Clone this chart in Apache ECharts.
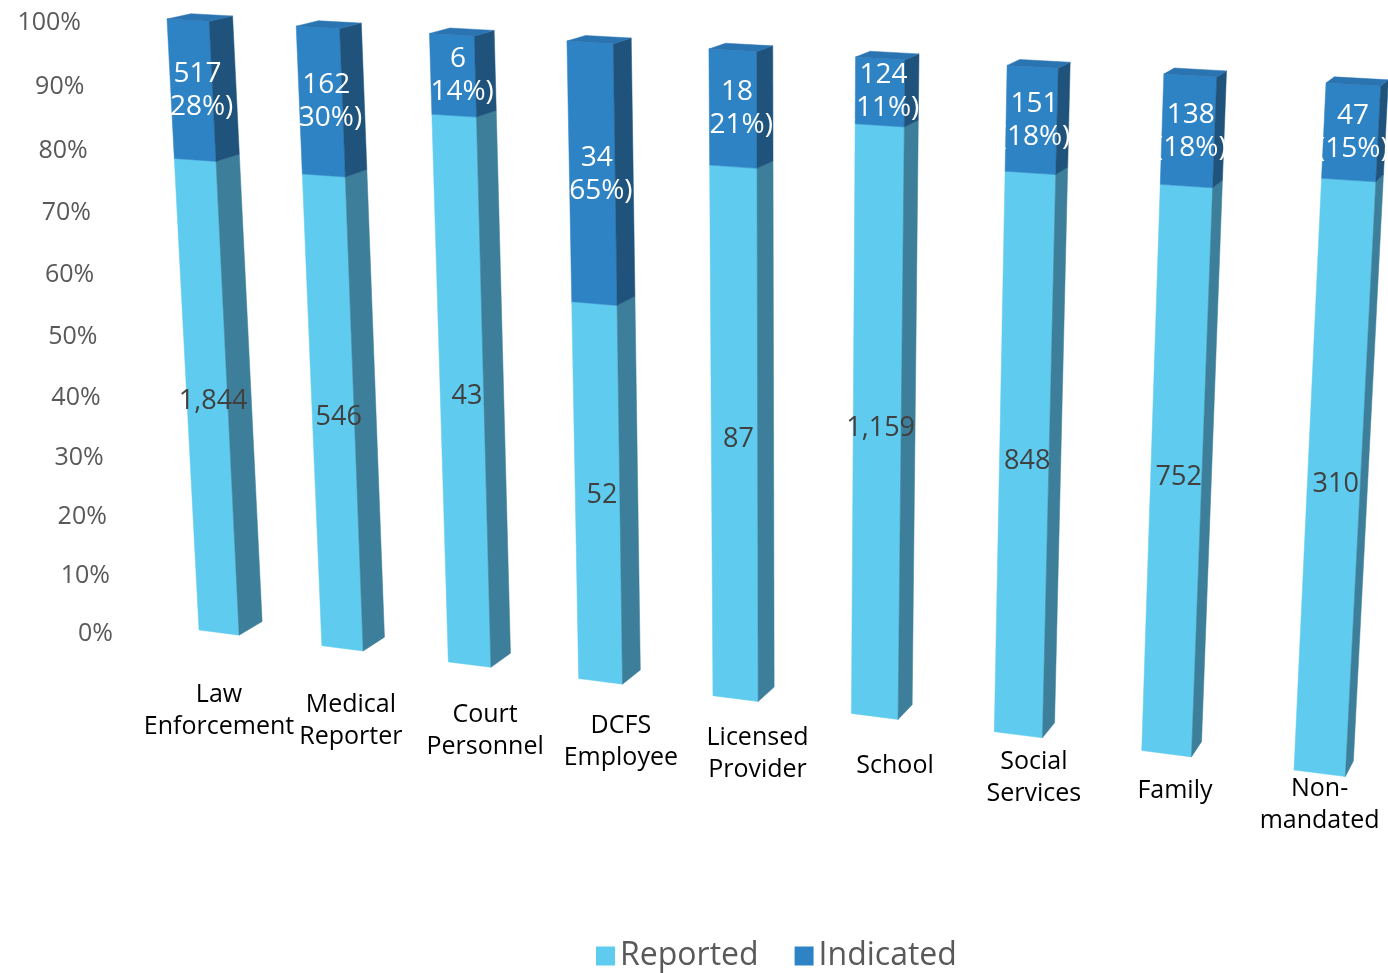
<!DOCTYPE html>
<html>
<head>
<meta charset="utf-8">
<script src="https://cdn.jsdelivr.net/npm/echarts@6/dist/echarts.min.js"></script>
<style>
html,body{margin:0;padding:0;background:#fff;}
#chart{width:1388px;height:973px;}
</style>
</head>
<body>
<div id="chart"></div>
<script>
// ---- data ----
const categories = ['Law\nEnforcement', 'Medical\nReporter', 'Court\nPersonnel', 'DCFS\nEmployee', 'Licensed\nProvider', 'School', 'Social\nServices', 'Family', 'Non-\nmandated'];
const reported = [1844, 546, 43, 52, 87, 1159, 848, 752, 310];
const indicated = [517, 162, 6, 34, 18, 124, 151, 138, 47];
const indicatedPct = [28, 30, 14, 65, 21, 11, 18, 18, 15];
const yTicks = [0, 10, 20, 30, 40, 50, 60, 70, 80, 90, 100];

// ---- layout / perspective constants ----
const FONT = '"Open Sans", "Noto Sans", sans-serif';
const BAR_W = 0.33;          // front face width in category units
const DEPTH_K = 0.0135;      // depth as fraction toward vanishing point
const VP = [1941, -373];     // vanishing point of depth lines
// screen corners of the front plane: (s,t) unit square -> picture
const SRC = [[0, 1], [0, 0], [1, 1], [1, 0]];
const DST = [[167, 19], [199, 630], [1326, 83], [1294, 770]];
const YLABEL_GAP = 86;
const COLORS = {
  repFront: '#5ECBEF', repSide: '#3D7F9A',
  indFront: '#2E83C5', indSide: '#1F537C', indTop: '#2B74B2'
};

function solveH(src, dst) {
  const A = [], b = [];
  for (let k = 0; k < 4; k++) {
    const [x, y] = src[k], [X, Y] = dst[k];
    A.push([x, y, 1, 0, 0, 0, -x * X, -y * X]); b.push(X);
    A.push([0, 0, 0, x, y, 1, -x * Y, -y * Y]); b.push(Y);
  }
  const n = 8;
  for (let c = 0; c < n; c++) {
    let p = c;
    for (let r = c + 1; r < n; r++) if (Math.abs(A[r][c]) > Math.abs(A[p][c])) p = r;
    [A[c], A[p]] = [A[p], A[c]]; [b[c], b[p]] = [b[p], b[c]];
    for (let r = 0; r < n; r++) {
      if (r === c) continue;
      const f = A[r][c] / A[c][c];
      for (let k = c; k < n; k++) A[r][k] -= f * A[c][k];
      b[r] -= f * b[c];
    }
  }
  return b.map((v, i) => v / A[i][i]);
}
const Hm = solveH(SRC, DST);
function homo(s, t) {
  const d = Hm[6] * s + Hm[7] * t + 1;
  return [(Hm[0] * s + Hm[1] * t + Hm[2]) / d, (Hm[3] * s + Hm[4] * t + Hm[5]) / d];
}
function back(p) {
  return [p[0] + DEPTH_K * (VP[0] - p[0]), p[1] + DEPTH_K * (VP[1] - p[1])];
}
function projector(params, api) {
  const cs = params.coordSys;
  return function (u, v) {
    const p = api.coord([u, v]);
    const s = (p[0] - cs.x) / cs.width;
    const t = (cs.y + cs.height - p[1]) / cs.height;
    return homo(s, t);
  };
}

const reportedShare = reported.map((r, i) => r / (r + indicated[i]) * 100);
const repData = reported.map((r, i) => [i, 0, reportedShare[i], r]);
const indData = indicated.map((v, i) => [i, reportedShare[i], 100, v]);

function barRenderer(isTop) {
  return function (params, api) {
    const P = projector(params, api);
    const i = api.value(0), v0 = api.value(1), v1 = api.value(2), val = api.value(3);
    const FL0 = P(i, v0), FR0 = P(i + BAR_W, v0), FR1 = P(i + BAR_W, v1), FL1 = P(i, v1);
    const front = isTop ? COLORS.indFront : COLORS.repFront;
    const side = isTop ? COLORS.indSide : COLORS.repSide;
    const children = [
      { type: 'polygon', shape: { points: [FL0, FR0, FR1, FL1] }, style: { fill: front, stroke: front, lineWidth: 0.5 } },
      { type: 'polygon', shape: { points: [FR0, back(FR0), back(FR1), FR1] }, style: { fill: side, stroke: side, lineWidth: 0.5 } }
    ];
    if (isTop) {
      children.push({ type: 'polygon', shape: { points: [FL1, FR1, back(FR1), back(FL1)] }, style: { fill: COLORS.indTop, stroke: COLORS.indTop, lineWidth: 0.5 } });
    }
    const mid = (v0 + v1) / 2;
    const L = P(i, mid), R = P(i + BAR_W, mid), RB = back(R);
    const cx = (L[0] + R[0]) / 2 + (RB[0] - R[0]) * 0.25, cy = (L[1] + R[1]) / 2;
    const text = isTop ? (val + '\n(' + indicatedPct[i] + '%)') : val.toLocaleString('en-US');
    children.push({
      type: 'text', z2: 10,
      style: {
        text: text, x: cx, y: cy, align: 'center', verticalAlign: 'middle',
        fill: isTop ? '#ffffff' : '#404040', fontSize: isTop ? 28 : 27, lineHeight: 33, fontFamily: FONT
      }
    });
    return { type: 'group', children: children };
  };
}

const option = {
  animation: false,
  backgroundColor: '#ffffff',
  grid: { left: 100, right: 100, top: 100, bottom: 100 },
  xAxis: { type: 'value', min: 0, max: 8, show: false },
  yAxis: { type: 'value', min: 0, max: 100, show: false },
  legend: {
    data: ['Reported', 'Indicated'],
    top: 935, left: 591, icon: 'rect', itemWidth: 19, itemHeight: 19, itemGap: 36,
    textStyle: { fontSize: 32, color: '#595959', fontFamily: FONT }
  },
  series: [
    {
      name: 'Reported', type: 'custom', renderItem: barRenderer(false), data: repData,
      itemStyle: { color: COLORS.repFront }, encode: { x: 0, y: [1, 2] }
    },
    {
      name: 'Indicated', type: 'custom', renderItem: barRenderer(true), data: indData,
      itemStyle: { color: COLORS.indFront }, encode: { x: 0, y: [1, 2] }
    },
    {
      name: 'yLabels', type: 'custom', data: yTicks.map(t => [0, t]),
      renderItem: function (params, api) {
        const P = projector(params, api);
        const p = P(api.value(0), api.value(1));
        return {
          type: 'text', style: {
            text: api.value(1) + '%', x: p[0] - YLABEL_GAP, y: p[1] + 4, align: 'right', verticalAlign: 'middle',
            fill: '#595959', fontSize: 25, fontFamily: FONT
          }
        };
      }
    },
    {
      name: 'xLabels', type: 'custom', data: categories.map((c, i) => [i, 0]),
      renderItem: function (params, api) {
        const P = projector(params, api);
        const i = api.value(0);
        const p = P(i + BAR_W / 2, 0);
        const shift = 22 * Math.sin(Math.PI * i / (categories.length - 1));
        return {
          type: 'text', style: {
            text: categories[i], x: p[0] + shift, y: p[1] + 78 - 5.8 * i, align: 'center', verticalAlign: 'middle',
            fill: '#000000', fontSize: 25, lineHeight: 32, fontFamily: FONT
          }
        };
      }
    }
  ]
};
const chart = echarts.init(document.getElementById('chart'), null, { renderer: 'canvas' });
chart.setOption(option);
</script>
</body>
</html>
